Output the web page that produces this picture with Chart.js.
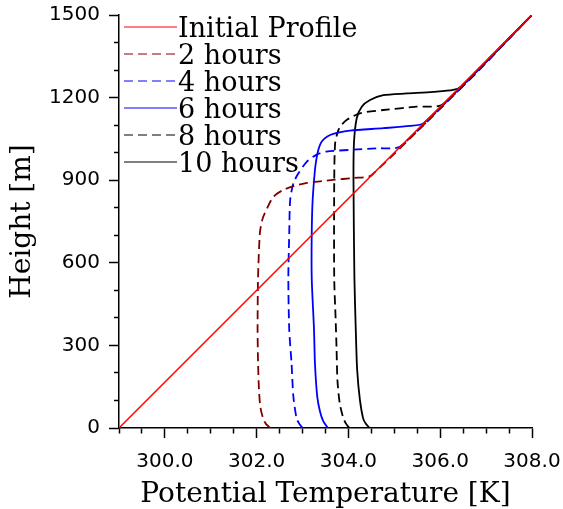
<!DOCTYPE html>
<html lang="en">
<head>
    <meta charset="UTF-8">
    <title>Potential Temperature Profiles</title>
    <script src="https://cdn.jsdelivr.net/npm/chart.js"></script>
    <style>
        html, body { margin: 0; padding: 0; background: #fff; }
        #wrap { width: 563px; height: 509px; }
    </style>
</head>
<body>
    <div id="wrap"><canvas id="myChart" width="563" height="509"></canvas></div>
    <script>
        // profiles: potential temperature [K] vs height [m]
        const seriesLabels = ['Initial Profile', '2 hours', '4 hours', '6 hours', '8 hours', '10 hours'];

        const thetaInit  = [299.0, 308.0];
        const heightInit = [0, 1500];

        const theta2h  = [302.30, 302.20, 302.14, 302.08, 302.05, 302.03, 302.02, 302.03, 302.07, 302.12, 302.18, 302.36, 302.57, 302.82, 303.10, 303.66, 304.10, 304.51, 308.0];
        const height2h = [0, 15, 35, 77, 140, 240, 360, 545, 708, 755, 781, 839, 864, 879, 890, 901, 908, 919, 1500];

        const theta4h  = [303.00, 302.93, 302.87, 302.80, 302.76, 302.71, 302.69, 302.71, 302.73, 302.80, 302.91, 303.09, 303.30, 303.52, 304.03, 304.61, 305.14, 308.0];
        const height4h = [0, 15, 35, 114, 235, 356, 544, 707, 828, 889, 925, 967, 992, 1004, 1010, 1016, 1024, 1500];

        const theta6h  = [303.55, 303.45, 303.38, 303.32, 303.27, 303.25, 303.20, 303.20, 303.22, 303.27, 303.30, 303.34, 303.39, 303.47, 303.60, 303.80, 304.03, 304.76, 305.34, 305.64, 308.0];
        const height6h = [0, 25, 60, 114, 235, 356, 544, 707, 828, 937, 975, 1008, 1032, 1050, 1064, 1074, 1080, 1089, 1097, 1107, 1500];

        const theta8h  = [304.02, 303.95, 303.89, 303.81, 303.76, 303.74, 303.72, 303.69, 303.69, 303.71, 303.78, 303.86, 303.96, 304.25, 304.76, 305.49, 306.06, 308.0];
        const height8h = [0, 15, 35, 90, 174, 295, 400, 544, 889, 1034, 1082, 1103, 1119, 1143, 1155, 1167, 1176, 1500];

        const theta10h  = [304.46, 304.38, 304.32, 304.25, 304.19, 304.16, 304.13, 304.11, 304.12, 304.18, 304.29, 304.47, 304.76, 305.27, 305.85, 306.28, 306.47, 308.0];
        const height10h = [0, 15, 35, 102, 211, 356, 544, 901, 1034, 1125, 1167, 1191, 1209, 1215, 1221, 1228, 1242, 1500];

        const xTickLabels = ['300.0', '302.0', '304.0', '306.0', '308.0'];
        const yTickLabels = ['0', '300', '600', '900', '1200', '1500'];

        function pairs(xs, ys) {
            return xs.map(function(x, i) { return { x: x, y: ys[i] }; });
        }

        function profile(label, xs, ys, color, dash, width) {
            return {
                label: label,
                data: pairs(xs, ys),
                showLine: true,
                borderColor: color,
                backgroundColor: color,
                borderWidth: width,
                borderDash: dash,
                pointRadius: 0,
                tension: 0.25,
                fill: false
            };
        }

        // legend drawn inside the plot, top-left
        const insideLegend = {
            id: 'insideLegend',
            afterDatasetsDraw(chart) {
                const ctx = chart.ctx;
                const area = chart.chartArea;
                ctx.save();
                ctx.font = '27px "DejaVu Serif"';
                ctx.textBaseline = 'alphabetic';
                chart.data.datasets.forEach(function(ds, i) {
                    const y = Math.round(area.top + 12 + i * 26.9);
                    ctx.beginPath();
                    ctx.setLineDash(ds.borderDash || []);
                    ctx.lineWidth = 1;
                    ctx.strokeStyle = ds.borderColor;
                    ctx.moveTo(area.left + 5, y);
                    ctx.lineTo(area.left + 58, y);
                    ctx.stroke();
                    ctx.setLineDash([]);
                    ctx.fillStyle = '#000';
                    ctx.fillText(ds.label, area.left + 59, y + 9.5);
                });
                ctx.restore();
            }
        };

        const ctx = document.getElementById('myChart');
        new Chart(ctx, {
            type: 'scatter',
            data: {
                datasets: [
                    profile(seriesLabels[0], thetaInit, heightInit, '#ff0000', [], 1.5),
                    profile(seriesLabels[1], theta2h, height2h, '#800000', [9, 5], 1.8),
                    profile(seriesLabels[2], theta4h, height4h, '#0000ff', [9, 5], 1.8),
                    profile(seriesLabels[3], theta6h, height6h, '#0000ff', [], 1.8),
                    profile(seriesLabels[4], theta8h, height8h, '#000000', [9, 5], 1.8),
                    profile(seriesLabels[5], theta10h, height10h, '#000000', [], 1.8)
                ]
            },
            plugins: [insideLegend],
            options: {
                responsive: false,
                animation: false,
                events: [],
                layout: { padding: { left: 0, top: 15, right: 31, bottom: 0 } },
                plugins: {
                    legend: { display: false },
                    tooltip: { enabled: false }
                },
                scales: {
                    x: {
                        type: 'linear',
                        min: 299,
                        max: 308,
                        border: { color: '#000', width: 1.5 },
                        grid: {
                            drawOnChartArea: false,
                            tickLength: 10,
                            tickColor: '#000',
                            tickWidth: 1.5,
                            // minor ticks: only the half next to the axis
                            tickBorderDash: function(c) {
                                return xTickLabels.includes(c.tick.value.toFixed(1)) ? [] : [5, 100];
                            }
                        },
                        ticks: {
                            stepSize: 0.5,
                            autoSkip: false,
                            maxRotation: 0,
                            padding: 12,
                            color: '#000',
                            font: { family: 'DejaVu Sans', size: 20 },
                            callback: function(v) {
                                const s = Number(v).toFixed(1);
                                return xTickLabels.includes(s) ? s : '';
                            }
                        },
                        title: {
                            display: true,
                            text: 'Potential Temperature [K]',
                            color: '#000',
                            font: { family: 'DejaVu Serif', size: 28, lineHeight: 1 },
                            padding: { top: 0, bottom: 0.5 }
                        },
                        afterFit: function(s) {
                            s.height = 81;
                            s.paddingLeft = 0;
                            s.paddingRight = 0;
                        }
                    },
                    y: {
                        type: 'linear',
                        min: 0,
                        max: 1500,
                        border: { color: '#000', width: 1.5 },
                        grid: {
                            drawOnChartArea: false,
                            tickLength: 10,
                            tickColor: '#000',
                            tickWidth: 1.5,
                            tickBorderDash: function(c) {
                                return yTickLabels.includes(String(c.tick.value)) ? [] : [0, 5, 5, 100];
                            }
                        },
                        ticks: {
                            stepSize: 100,
                            autoSkip: false,
                            padding: 9,
                            color: '#000',
                            font: { family: 'DejaVu Sans', size: 20 },
                            callback: function(v) {
                                const s = String(v);
                                return yTickLabels.includes(s) ? s : '';
                            }
                        },
                        title: {
                            display: true,
                            text: 'Height [m]',
                            color: '#000',
                            font: { family: 'DejaVu Serif', size: 28 },
                            padding: { top: 6, bottom: 0 }
                        },
                        afterFit: function(s) {
                            s.width = 119;
                            s.paddingTop = 0;
                            s.paddingBottom = 0;
                        }
                    }
                }
            }
        });
    </script>
</body>
</html>
